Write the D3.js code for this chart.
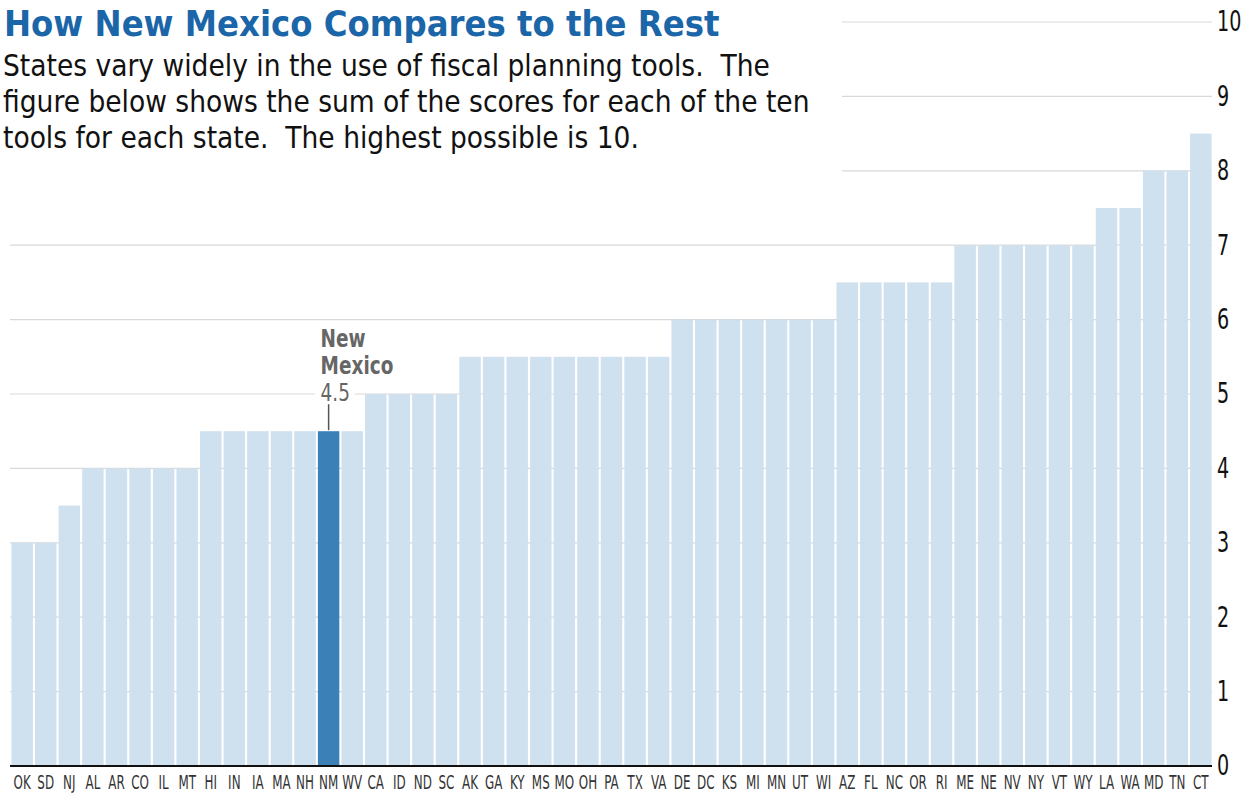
<!DOCTYPE html>
<html>
<head>
<meta charset="utf-8">
<script src="https://cdn.jsdelivr.net/npm/d3@7"></script>
<style>
  body { margin: 0; background: #fff; }
  svg { display: block; }
</style>
</head>
<body>
<svg id="chart" width="1251" height="799"></svg>
<script>
// data
const states = ['OK','SD','NJ','AL','AR','CO','IL','MT','HI','IN','IA','MA','NH','NM','WV','CA','ID','ND','SC',
  'AK','GA','KY','MS','MO','OH','PA','TX','VA','DE','DC','KS','MI','MN','UT','WI','AZ','FL','NC','OR','RI',
  'ME','NE','NV','NY','VT','WY','LA','WA','MD','TN','CT'];
const scores = [3,3,3.5,4,4,4,4,4,4.5,4.5,4.5,4.5,4.5,4.5,4.5,5,5,5,5,
  5.5,5.5,5.5,5.5,5.5,5.5,5.5,5.5,5.5,6,6,6,6,6,6,6,6.5,6.5,6.5,6.5,6.5,
  7,7,7,7,7,7,7.5,7.5,8,8,8.5];
const yTicks = [0,1,2,3,4,5,6,7,8,9,10];
const highlight = 'NM';

const narrow = '"DejaVu Sans Condensed", "DejaVu Sans", sans-serif';
const svg = d3.select('#chart');

const x = d3.scaleBand().domain(states).range([10.5, 1212.5]).paddingInner(0.09).paddingOuter(0.04);
const y = d3.scaleLinear().domain([0, 10]).range([766, 22]);

// gridlines
svg.append('g')
  .selectAll('line')
  .data(yTicks.filter(d => d > 0))
  .join('line')
  .attr('x1', 10)
  .attr('x2', 1212)
  .attr('y1', d => y(d))
  .attr('y2', d => y(d))
  .attr('stroke', '#d9d9d9')
  .attr('stroke-width', 1.2);

// white panel behind the heading text
svg.append('rect')
  .attr('x', 0).attr('y', 0)
  .attr('width', 842).attr('height', 180)
  .attr('fill', '#fff');

// bars
svg.append('g')
  .selectAll('rect')
  .data(states)
  .join('rect')
  .attr('x', d => x(d))
  .attr('width', x.bandwidth())
  .attr('y', (d, i) => y(scores[i]))
  .attr('height', (d, i) => y(0) - y(scores[i]))
  .attr('fill', d => d === highlight ? '#3c80b8' : '#cfe0ee');

// right axis
const axis = svg.append('g')
  .attr('transform', 'translate(1212,0)')
  .call(d3.axisRight(y).tickValues(yTicks).tickSize(0).tickPadding(0).tickFormat(d3.format('d')));
axis.select('.domain').remove();
axis.selectAll('text')
  .attr('x', 0)
  .attr('font-family', narrow)
  .attr('font-size', 28)
  .attr('fill', '#111')
  .attr('transform', 'translate(5,0) scale(0.76,1)');

// baseline
svg.append('line')
  .attr('x1', 10).attr('x2', 1212)
  .attr('y1', y(0)).attr('y2', y(0))
  .attr('stroke', '#111').attr('stroke-width', 2);

// state labels
const xAxis = svg.append('g')
  .attr('transform', `translate(0,${y(0) + 2})`)
  .call(d3.axisBottom(x).tickSize(0).tickPadding(7));
xAxis.select('.domain').remove();
xAxis.selectAll('text')
  .attr('font-family', narrow)
  .attr('font-size', 19.5)
  .attr('fill', '#333')
  .attr('transform', 'scale(0.68,1)');

// New Mexico callout
const nmIdx = states.indexOf(highlight);
const cx = x(highlight) + x.bandwidth() / 2;
svg.append('rect')
  .attr('x', cx - 14).attr('y', y(5) - 6)
  .attr('width', 40).attr('height', 12)
  .attr('fill', '#fff');
svg.append('line')
  .attr('x1', cx).attr('x2', cx)
  .attr('y1', y(scores[nmIdx]) - 1).attr('y2', y(scores[nmIdx]) - 27)
  .attr('stroke', '#555').attr('stroke-width', 1.5);
const calloutLines = [
  { t: 'New', y: 347, bold: true },
  { t: 'Mexico', y: 374, bold: true },
  { t: String(scores[nmIdx]), y: 401, bold: false }
];
svg.append('g')
  .selectAll('text')
  .data(calloutLines)
  .join('text')
  .attr('transform', d => `translate(${cx - 8},${d.y}) scale(0.82,1)`)
  .attr('font-family', narrow)
  .attr('font-size', 25)
  .attr('font-weight', d => d.bold ? 'bold' : 'normal')
  .attr('fill', '#666')
  .text(d => d.t);

// heading
svg.append('text')
  .attr('x', 4).attr('y', 36)
  .attr('font-family', narrow)
  .attr('font-size', 36)
  .attr('font-weight', 'bold')
  .attr('fill', '#1a66a8')
  .text('How New Mexico Compares to the Rest');

const subtitle = [
  'States vary widely in the use of fiscal planning tools.  The',
  'figure below shows the sum of the scores for each of the ten',
  'tools for each state.  The highest possible is 10.'
];
svg.append('g')
  .selectAll('text')
  .data(subtitle)
  .join('text')
  .attr('x', 3)
  .attr('y', (d, i) => 76 + i * 36)
  .attr('font-family', narrow)
  .attr('font-size', 29.5)
  .attr('fill', '#111')
  .attr('xml:space', 'preserve')
  .style('white-space', 'pre')
  .text(d => d);
</script>
</body>
</html>
